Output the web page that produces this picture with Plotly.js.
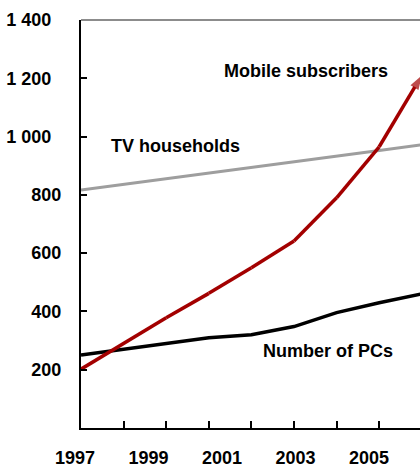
<!DOCTYPE html>
<html>
<head>
<meta charset="utf-8">
<script src="https://cdn.plot.ly/plotly-3.0.1.min.js"></script>
<style>html,body{margin:0;padding:0;background:#fff;}#chart{width:420px;height:471px;}</style>
</head>
<body>
<div id="chart"></div>
<script>
// ---- data ----
const years = [1997, 1998, 1999, 2000, 2001, 2002, 2003, 2004, 2005];
const mobileSubscribers = [202, 290, 378, 462, 550, 642, 790, 965, 1210];
const tvHouseholds = [817, 836, 855, 874, 893, 912, 933, 952, 972];
const numberOfPCs = [250, 270, 290, 310, 320, 348, 396, 430, 460];
const seriesNames = ['Mobile subscribers', 'TV households', 'Number of PCs'];
const yTickValues = [200, 400, 600, 800, 1000, 1200, 1400];
const yTickLabels = ['200', '400', '600', '800', '1 000', '1 200', '1 400'];
const xLabelYears = [1997, 1999, 2001, 2003, 2005];
const xLabelText = ['1997', '1999', '2001', '2003', '2005'];

const FONT = 'Liberation Sans, Arial, sans-serif';
const RED = '#a30000';
const GREY = '#9e9e9e';

const lastIdx = years.length - 1;
const arrowSizes = years.map((_, i) => (i === lastIdx ? 15 : 0));

const traces = [
  {x: years, y: tvHouseholds, name: seriesNames[1], mode: 'lines', xaxis: 'x', yaxis: 'y',
   line: {color: GREY, width: 3}, hoverinfo: 'skip'},
  {x: years, y: numberOfPCs, name: seriesNames[2], mode: 'lines', xaxis: 'x', yaxis: 'y',
   line: {color: '#000000', width: 3.5}, hoverinfo: 'skip'},
  {x: years, y: mobileSubscribers, name: seriesNames[0], mode: 'lines+markers', xaxis: 'x', yaxis: 'y',
   line: {color: RED, width: 3.5},
   marker: {symbol: 'arrow', angleref: 'previous', size: arrowSizes, color: RED, line: {width: 0}},
   hoverinfo: 'skip'},
  // empty carrier so the year-label axis is drawn
  {x: xLabelYears, y: xLabelYears.map(() => null), mode: 'lines', xaxis: 'x2', yaxis: 'y',
   showlegend: false, hoverinfo: 'skip', line: {width: 0}}
];

const W = 420, H = 471;
const plotLeftPx = 81;
const pxPerYear = 42.6;
const labelPxPerYear = 36.75;
const labelFirstPx = 75;

const layout = {
  width: W, height: H,
  margin: {l: 0, r: 0, t: 20, b: 43, pad: 0},
  paper_bgcolor: '#ffffff', plot_bgcolor: 'rgba(0,0,0,0)',
  showlegend: false,
  font: {family: FONT, size: 18, color: '#000000', weight: 'bold'},
  xaxis: {
    domain: [plotLeftPx / W, 1], anchor: 'y',
    range: [years[0], years[0] + (W - plotLeftPx) / pxPerYear],
    showline: true, linecolor: '#000000', linewidth: 2,
    ticks: 'inside', ticklen: 7, tickwidth: 2, tickcolor: '#000000',
    dtick: 1, tick0: years[0], showticklabels: false,
    showgrid: false, zeroline: false, fixedrange: true
  },
  xaxis2: {
    domain: [0, 1], anchor: 'y',
    range: [xLabelYears[0] - labelFirstPx / labelPxPerYear, xLabelYears[0] + (W - labelFirstPx) / labelPxPerYear],
    showline: false, ticks: '', tickmode: 'array', tickvals: xLabelYears, ticktext: xLabelText,
    ticklabelstandoff: 17,
    tickfont: {family: FONT, size: 18, color: '#000000', weight: 'bold'},
    showgrid: false, zeroline: false, fixedrange: true
  },
  yaxis: {
    domain: [0, 1], anchor: 'x',
    range: [0, 1400],
    showline: true, linecolor: '#000000', linewidth: 2,
    ticks: 'inside', ticklen: 6, tickwidth: 2, tickcolor: '#000000',
    tickmode: 'array', tickvals: yTickValues,
    ticktext: yTickLabels.map(t => (t.length > 3 ? t + '\u2007' : t)),
    ticklabelstandoff: 14,
    tickfont: {family: FONT, size: 18, color: '#000000', weight: 'bold'},
    showgrid: false, zeroline: false, fixedrange: true
  },
  shapes: [
    {type: 'line', xref: 'x domain', yref: 'y domain', x0: 0, x1: 1, y0: 1, y1: 1,
     line: {color: '#8c8c8c', width: 2}}
  ],
  annotations: [
    {text: seriesNames[0], xref: 'x', yref: 'y', x: 2002.28, y: 1225, showarrow: false,
     xanchor: 'center', yanchor: 'middle', font: {family: FONT, size: 18, color: '#000000', weight: 'bold'}},
    {text: seriesNames[1], xref: 'x', yref: 'y', x: 1999.21, y: 968, showarrow: false,
     xanchor: 'center', yanchor: 'middle', font: {family: FONT, size: 18, color: '#000000', weight: 'bold'}},
    {text: seriesNames[2], xref: 'x', yref: 'y', x: 2002.79, y: 264, showarrow: false,
     xanchor: 'center', yanchor: 'middle', font: {family: FONT, size: 18, color: '#000000', weight: 'bold'}}
  ]
};

Plotly.newPlot('chart', traces, layout, {displayModeBar: false, staticPlot: true});
</script>
</body>
</html>
